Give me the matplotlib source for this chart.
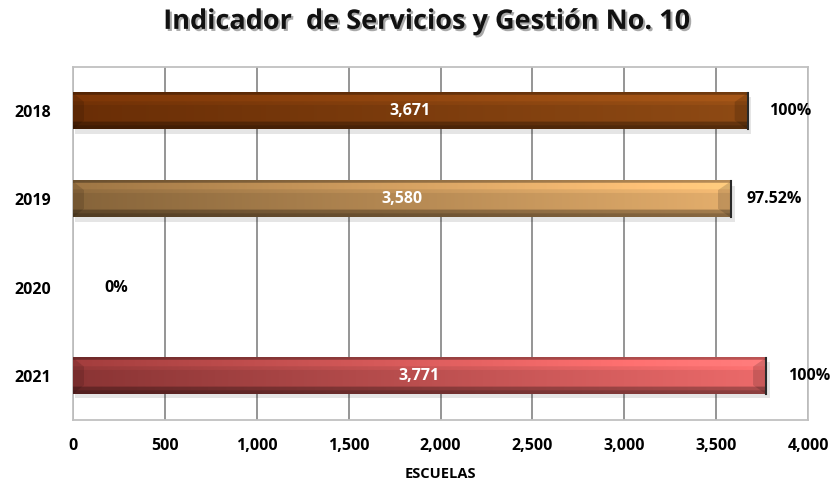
import numpy as np
import matplotlib
matplotlib.use("Agg")
import matplotlib.pyplot as plt
import matplotlib.patheffects as pe
from matplotlib.ticker import FuncFormatter

plt.rcParams['font.family'] = ['Open Sans', 'DejaVu Sans']

years = ["2018", "2019", "2020", "2021"]
escuelas = [3671, 3580, 0, 3771]
pct_labels = ["100%", "97.52%", "0%", "100%"]
# left / right shades of each bar
left_colors = ["#6a2e06", "#86643a", "#888888", "#8a3434"]
right_colors = ["#8e4a14", "#e4ae6c", "#aaaaaa", "#ec6a6a"]

title = "Indicador  de Servicios y Gestión No. 10"
xlabel = "ESCUELAS"


def hex2rgb(h):
    h = h.lstrip('#')
    return np.array([int(h[i:i + 2], 16) / 255 for i in (0, 2, 4)])


def bar_image(c0, c1, nrows=40, ncols=300):
    t = np.linspace(0, 1, ncols)[None, :, None]
    base = hex2rgb(c0)[None, None, :] * (1 - t) + hex2rgb(c1)[None, None, :] * t
    # vertical bevel shading: highlight near top, dark band at bottom
    v = np.linspace(0, 1, nrows)
    prof = np.ones(nrows)
    prof[v < 0.06] = 0.8
    prof[(v >= 0.06) & (v < 0.25)] = 1.18
    prof[(v >= 0.25) & (v < 0.35)] = 1.08
    prof[v > 0.8] = 0.72
    prof[v > 0.92] = 0.6
    img = base * prof[:, None, None]
    return np.clip(img, 0, 1)


fig = plt.figure(figsize=(8.37, 4.86), dpi=100)
ax = fig.add_axes([0.0872, 0.1358, 0.8782, 0.7263])

ypos = np.arange(len(years))
bar_h = 0.41
bars = ax.barh(ypos, escuelas, height=bar_h, color='none', edgecolor='none', zorder=3)

for i, (b, val) in enumerate(zip(bars, escuelas)):
    if val > 0:
        y0 = b.get_y()
        # drop shadow (y axis is inverted, so +y is downward)
        ax.fill_between([10, val + 20], y0 + 0.05, y0 + bar_h + 0.05,
                        color='#000000', alpha=0.10, zorder=2, lw=0)
        ax.imshow(bar_image(left_colors[i], right_colors[i]), aspect='auto',
                  extent=(0, val, y0 + bar_h, y0), origin='upper',
                  interpolation='bilinear', zorder=3)
        # left bevel
        ax.fill([0, 60, 60, 0], [y0, y0 + 0.1, y0 + bar_h - 0.1, y0 + bar_h],
                color='black', alpha=0.12, zorder=4, lw=0)
        # right end cap
        ax.fill([val, val - 70, val - 70, val],
                [y0, y0 + 0.1, y0 + bar_h - 0.1, y0 + bar_h],
                color='black', alpha=0.15, zorder=4, lw=0)
        ax.plot([val, val], [y0, y0 + bar_h], color='#2a2a2a', lw=1.5, zorder=5)
        ax.text(val / 2, ypos[i], f"{val:,}", color='white', fontsize=11.5,
                fontweight='bold', ha='center', va='center', zorder=6)
    ax.annotate(pct_labels[i], xy=(val, ypos[i]), xytext=(31, 0),
                textcoords='offset points', ha='center', va='center',
                fontsize=11.5, fontweight='bold', color='black', zorder=6,
                annotation_clip=False)

ax.set_xlim(0, 4000)
ax.set_ylim(len(years) - 0.5, -0.5)
ax.set_yticks(ypos)
ax.set_yticklabels(years)
ax.set_xticks(np.arange(0, 4001, 500))
ax.xaxis.set_major_formatter(FuncFormatter(lambda x, p: f"{int(x):,}"))
ax.tick_params(axis='both', length=0, labelsize=11.5)
ax.tick_params(axis='x', pad=13)
ax.tick_params(axis='y', pad=16)
for lab in ax.get_xticklabels() + ax.get_yticklabels():
    lab.set_fontweight('bold')

ax.grid(axis='x', color='#8c8c8c', lw=1.3, zorder=1)
ax.set_axisbelow(True)
for s in ax.spines.values():
    s.set_color('#c0c0c0')
    s.set_linewidth(1.3)

ax.set_xlabel(xlabel, fontsize=10.5, fontweight='bold', labelpad=9)

fig.text(0.51, 0.955, title, ha='center', va='center', fontsize=19.5,
         fontweight='bold', color='#111111',
         path_effects=[pe.withSimplePatchShadow(offset=(1.5, -1.5), shadow_rgbFace='#555555', alpha=0.5)])

fig.savefig("out.png", dpi=100)
